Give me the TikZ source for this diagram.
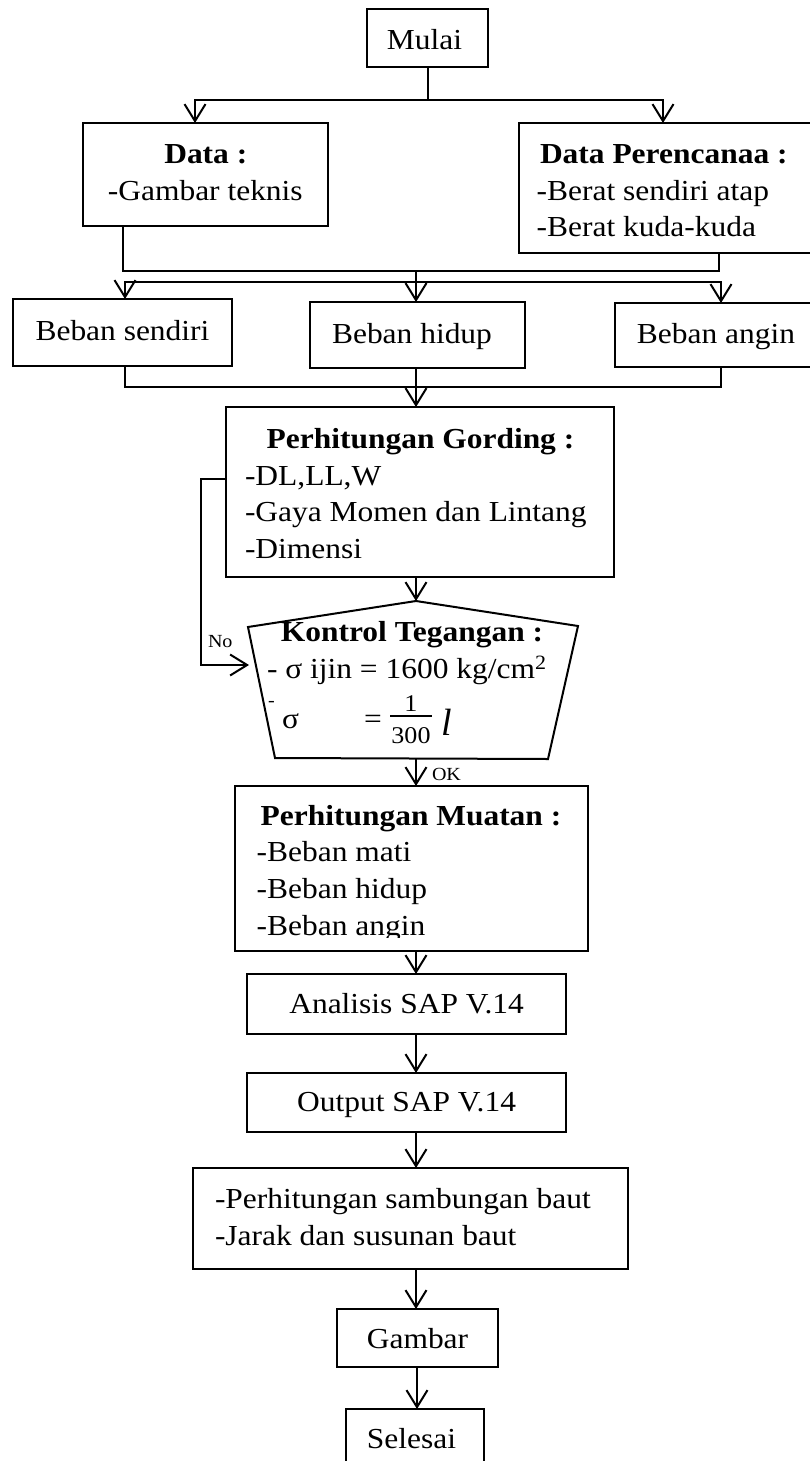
\documentclass[tikz,border=0pt]{standalone}
\usepackage{fontspec}
\setmainfont{Liberation Serif}[FakeStretch=1.085]
\newfontfamily\plainserif{Liberation Serif}
\usetikzlibrary{arrows.meta}
\tikzset{
  box/.style={draw, line width=2pt, rectangle, inner sep=0pt, outer sep=0pt},
  lbl/.style={inner sep=0pt, outer sep=0pt, font=\fontsize{29}{36.6}\selectfont},
  small/.style={inner sep=0pt, outer sep=0pt, font=\fontsize{18.5}{20}\selectfont},
  digit/.style={inner sep=0pt, outer sep=0pt, font=\fontsize{24}{26}\selectfont},
  ln/.style={line width=2pt},
  arr/.style={line width=2pt, -{Straight Barb[length=17pt,width=21pt]}},
}
\begin{document}
\begin{tikzpicture}[x=1pt,y=-1pt]
\useasboundingbox (0,0) rectangle (810,1461);
\begin{scope}
\clip (0,0) rectangle (810,1461);
% ---------- boxes ----------
\node[box, minimum width=121pt, minimum height=58pt] (mulai) at (427.5,38) {};
\node[box, minimum width=245pt, minimum height=103pt] (data) at (205.5,174.5) {};
\node[box, minimum width=311pt, minimum height=130pt] (dp) at (674.5,188) {};
\node[box, minimum width=219pt, minimum height=67pt] (bs) at (122.5,332.5) {};
\node[box, minimum width=215pt, minimum height=66pt] (bh) at (417.5,335) {};
\node[box, minimum width=215pt, minimum height=64pt] (ba) at (722.5,335) {};
\node[box, minimum width=388pt, minimum height=170pt] (gording) at (420,492) {};
\node[box, minimum width=353pt, minimum height=165pt] (muatan) at (411.5,868.5) {};
\node[box, minimum width=319pt, minimum height=60pt] (analisis) at (406.5,1004) {};
\node[box, minimum width=319pt, minimum height=59pt] (output) at (406.5,1102.5) {};
\node[box, minimum width=435pt, minimum height=101pt] (baut) at (410.5,1218.5) {};
\node[box, minimum width=161pt, minimum height=58pt] (gambar) at (417.5,1338) {};
\node[box, minimum width=138pt, minimum height=71pt] (selesai) at (415,1444.5) {};
% decision (pentagon)
\coordinate (kapex) at (416,601);
\coordinate (ktl) at (248,627);
\coordinate (ktr) at (578,626);
\coordinate (kbr) at (548,759);
\coordinate (kbl) at (275,758);
\draw[ln, line join=miter] (kapex) -- (ktr) -- (kbr) -- (kbl) -- (ktl) -- cycle;
% ---------- texts ----------
\node[lbl, anchor=base] (tmulai) at (424.5,49.3) {Mulai};
\node[lbl, anchor=base] (tdata1) at (205.8,163.3) {\bfseries Data :};
\node[lbl, anchor=base] (tdata2) at (205.3,200) {-Gambar teknis};
\node[lbl, anchor=base west] (tdp1) at (540,163.3) {\bfseries Data Perencanaa :};
\node[lbl, anchor=base west] (tdp2) at (536.7,200) {-Berat sendiri atap};
\node[lbl, anchor=base west] (tdp3) at (536.7,236.7) {-Berat kuda-kuda};
\node[lbl, anchor=base] (tbs) at (122.5,340) {Beban sendiri};
\node[lbl, anchor=base] (tbh) at (412,343.3) {Beban hidup};
\node[lbl, anchor=base] (tba) at (716,343.3) {Beban angin};
\node[lbl, anchor=base] (tg1) at (420.5,448.3) {\bfseries Perhitungan Gording :};
\node[lbl, anchor=base west] (tg2) at (245,485) {-DL,LL,W};
\node[lbl, anchor=base west] (tg3) at (245,521.7) {-Gaya Momen dan Lintang};
\node[lbl, anchor=base west] (tg4) at (245,558.3) {-Dimensi};
\node[lbl, anchor=base] (tk1) at (412,641.7) {\bfseries Kontrol Tegangan :};
\node[lbl, anchor=base west] (tk2) at (267,678.3) {- σ ijin = 1600 kg/cm\textsuperscript{2}};
\node[small, anchor=base west] (tk3a) at (268,706) {-};
\node[lbl, anchor=base west] (tk3b) at (282,728) {σ};
\node[lbl, anchor=base west] (tk3c) at (364,728) {=};
\node[digit, anchor=base] (tnum) at (411,711.7) {1};
\node[digit, anchor=base] (tden) at (411,743.3) {300};
\coordinate (barL) at (390,716);
\coordinate (barR) at (432,716);
\draw[line width=2.6pt] (barL) -- (barR);
\node[inner sep=0pt, anchor=base west, font=\plainserif\itshape\fontsize{38}{40}\selectfont] (tl) at (441,735) {l};
\node[small, anchor=base west] (tno) at (208,647) {No};
\node[small, anchor=base west] (tok) at (432,780) {OK};
\node[lbl, anchor=base] (tm1) at (411,825) {\bfseries Perhitungan Muatan :};
\node[lbl, anchor=base west] (tm2) at (256.7,861.7) {-Beban mati};
\node[lbl, anchor=base west] (tm3) at (256.7,898.3) {-Beban hidup};
\begin{scope}
\clip (235,880) rectangle (588,937.5);
\node[lbl, anchor=base west] (tm4) at (256.7,935) {-Beban angin};
\end{scope}
\node[lbl, anchor=base] (tan) at (406.6,1013.3) {Analisis SAP V.14};
\node[lbl, anchor=base] (tout) at (406.6,1111.5) {Output SAP V.14};
\node[lbl, anchor=base west] (tb1) at (215,1208.3) {-Perhitungan sambungan baut};
\node[lbl, anchor=base west] (tb2) at (215,1245) {-Jarak dan susunan baut};
\node[lbl, anchor=base] (tgam) at (417.5,1348.3) {Gambar};
\node[lbl, anchor=base] (tsel) at (411.5,1448.3) {Selesai};
% ---------- connectors ----------
\coordinate (split1) at (427.5,100);
\coordinate (dataIn) at (195,123);
\coordinate (dpIn) at (663,123);
\draw[ln] (mulai.south) -- (split1);
\draw[arr] (split1) -| (dataIn);
\draw[arr] (split1) -| (dpIn);
\coordinate (dataOut) at (123,226);
\coordinate (dpOut) at (719,253);
\draw[ln] (dataOut) -- ++(0,45) -| (dpOut);
\coordinate (m1) at (416,271);
\coordinate (bhIn) at (416,302);
\draw[arr] (m1) -- (bhIn);
\coordinate (m2) at (416,282);
\coordinate (bsIn) at (125,299);
\coordinate (baIn) at (721,303);
\draw[arr] (m2) -| (bsIn);
\draw[arr] (m2) -| (baIn);
\coordinate (bsOut) at (125,366);
\coordinate (baOut) at (721,367);
\draw[ln] (bsOut) -- ++(0,21) -| (baOut);
\coordinate (bhOut) at (416,368);
\coordinate (gIn) at (416,407);
\draw[arr] (bhOut) -- (gIn);
\coordinate (gOut) at (416,577);
\draw[arr] (gOut) -- (kapex);
\coordinate (gLoop) at (226,479);
\coordinate (kIn) at (249,665);
\draw[arr] (gLoop) -- ++(-25,0) |- (kIn);
\coordinate (kOut) at (416,759);
\coordinate (mIn) at (416,786);
\draw[arr] (kOut) -- (mIn);
\draw[arr] (muatan.south -| mIn) -- (analisis.north -| mIn);
\draw[arr] (analisis.south -| mIn) -- (output.north -| mIn);
\draw[arr] (output.south -| mIn) -- (baut.north -| mIn);
\draw[arr] (baut.south -| mIn) -- (gambar.north -| mIn);
\coordinate (gamOut) at (417,1367);
\draw[arr] (gamOut) -- (selesai.north -| gamOut);
\end{scope}
\end{tikzpicture}
\end{document}
